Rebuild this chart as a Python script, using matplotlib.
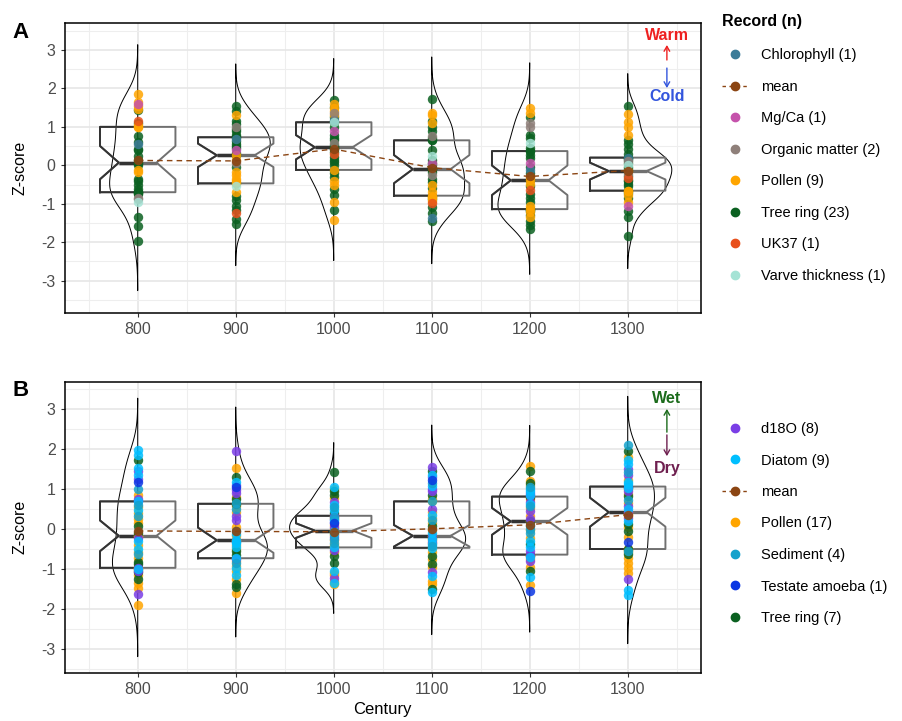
import numpy as np
import matplotlib.pyplot as plt
from matplotlib.lines import Line2D
from matplotlib.patches import Rectangle

plt.rcParams['font.family'] = ['Liberation Sans', 'DejaVu Sans']
plt.rcParams['axes.unicode_minus'] = False

centuries = [800, 900, 1000, 1100, 1200, 1300]

# ---- panel A : temperature records, z-scores per century ----
a_chlorophyll = [[0.55], [0.68], [1.18], [-1.37], [-0.12], [0.20]]
a_mgca = [[1.60], [0.40], [0.90], [0.05], [0.05], [-1.05]]
a_organic = [[-0.88, -0.85], [0.05, 1.00], [0.58, 1.35], [-0.25, 0.75], [1.00, 1.10], [-0.22, 0.10]]
a_pollen = [
    [-0.18, -0.12, 1.0, 1.0, 1.05, 1.47, 1.55, 1.65, 1.85],
    [-0.70, -0.47, -0.40, -0.35, -0.25, -0.18, 0.15, 0.26, 1.30],
    [-1.41, -0.95, -0.50, -0.40, -0.12, 1.30, 1.42, 1.48, 1.60],
    [-0.92, -0.85, -0.82, -0.79, -0.70, -0.50, 1.10, 1.30, 1.35],
    [-1.35, -1.22, -1.14, -1.05, -0.48, -0.39, -0.30, 1.35, 1.49],
    [-0.95, -0.78, -0.68, -0.66, -0.15, 0.80, 1.00, 1.13, 1.34],
]
a_tree_ring = [
    [-1.97, -1.58, -1.35, -0.75, -0.72, -0.70, -0.70, -0.70, -0.62, -0.50, -0.42, -0.35,
     0.0, 0.07, 0.07, 0.15, 0.25, 0.40, 0.42, 0.60, 0.75, 1.10, 1.45],
    [-1.52, -1.40, -1.15, -1.05, -0.90, -0.80, -0.47, -0.05, 0.26, 0.32, 0.45, 0.50,
     0.55, 0.62, 0.73, 0.73, 0.80, 0.88, 0.95, 1.08, 1.15, 1.42, 1.55],
    [-1.16, -0.78, -0.62, -0.30, -0.20, -0.12, 0.00, 0.08, 0.15, 0.22, 0.35, 0.42,
     0.47, 0.47, 0.52, 0.65, 0.72, 0.80, 1.00, 1.12, 1.25, 1.52, 1.71],
    [-1.46, -1.25, -1.09, -0.88, -0.79, -0.60, -0.44, -0.35, -0.18, -0.10, -0.10, -0.08,
     0.0, 0.05, 0.15, 0.40, 0.65, 0.65, 0.70, 0.90, 1.00, 1.15, 1.72],
    [-1.66, -1.55, -1.45, -1.28, -1.18, -1.15, -1.14, -1.14, -0.95, -0.85, -0.75, -0.55,
     -0.39, -0.20, -0.05, 0.18, 0.28, 0.37, 0.37, 0.45, 0.70, 0.80, 1.25],
    [-1.85, -1.35, -1.20, -0.85, -0.72, -0.66, -0.55, -0.48, -0.42, -0.38, -0.28, -0.15,
     -0.10, -0.05, 0.05, 0.15, 0.18, 0.20, 0.30, 0.42, 0.55, 0.65, 1.55],
]
a_uk37 = [[1.15], [-1.25], [0.30], [-0.98], [-0.65], [-0.32]]
a_varve = [[-0.96], [-0.55], [1.12], [0.25], [0.58], [0.00]]

# ---- panel B : hydroclimate records ----
b_d18o = [
    [-1.62, -1.05, -0.97, -0.22, 0.69, 0.75, 1.25, 1.45],
    [-0.75, -0.29, 0.22, 0.33, 0.90, 0.98, 1.10, 1.96],
    [-1.22, -0.52, -0.20, 0.05, 0.18, 0.25, 0.33, 0.68],
    [-1.08, -0.32, -0.17, 0.50, 0.95, 1.00, 1.30, 1.54],
    [-0.80, -0.64, -0.56, 0.25, 0.46, 0.68, 0.86, 0.90],
    [-1.25, 0.28, 0.42, 0.57, 0.95, 1.06, 1.35, 1.50],
]
b_diatom = [
    [-1.00, -0.50, -0.30, 0.48, 0.69, 1.35, 1.52, 1.85, 1.98],
    [-1.15, -0.98, -0.73, -0.45, -0.36, -0.33, -0.28, -0.12, 1.18],
    [-1.35, -1.05, -0.46, -0.12, -0.04, 0.22, 0.48, 0.60, 1.05],
    [-1.58, -1.18, -0.47, -0.38, -0.25, -0.10, 0.35, 1.08, 1.35],
    [-1.20, -0.70, -0.45, -0.30, 0.08, 0.62, 0.84, 0.95, 1.00],
    [-1.65, -1.52, 0.20, 0.50, 1.03, 1.12, 1.17, 1.62, 1.72],
]
b_pollen = [
    [-1.90, -1.48, -1.35, -1.15, -1.02, -0.98, -0.97, -0.72, -0.57, -0.40, -0.17, -0.17,
     0.15, 0.25, 0.40, 0.55, 0.85],
    [-1.61, -1.25, -1.05, -0.92, -0.80, -0.73, -0.50, -0.40, -0.30, -0.28, -0.18, 0.05,
     0.42, 0.58, 0.63, 0.80, 1.52],
    [-1.37, -1.30, -1.15, -1.10, -0.58, -0.46, -0.40, -0.28, -0.15, -0.10, -0.04, 0.00,
     0.10, 0.28, 0.33, 0.78, 1.00],
    [-1.38, -1.29, -0.95, -0.75, -0.58, -0.47, -0.35, -0.28, -0.22, -0.18, -0.17, -0.02,
     0.15, 0.28, 0.42, 0.69, 0.75],
    [-1.40, -0.95, -0.75, -0.68, -0.65, -0.64, -0.22, -0.02, 0.19, 0.20, 0.32, 0.52,
     0.75, 0.81, 1.10, 1.20, 1.57],
    [-1.10, -0.98, -0.85, -0.72, -0.58, -0.52, -0.50, -0.20, 0.05, 0.33, 0.38, 0.42,
     0.65, 0.88, 1.00, 1.22, 1.79],
]
b_sediment = [
    [-0.62, 0.32, 0.60, 1.00],
    [-0.85, -0.05, 0.50, 0.66],
    [-0.35, -0.25, 0.30, 0.54],
    [-0.42, 0.22, 0.69, 1.15],
    [-0.10, 0.00, 0.58, 1.05],
    [-0.55, 0.72, 1.42, 2.10],
]
b_testate = [[1.18], [1.05], [0.15], [1.22], [-1.56], [-0.32]]
b_tree_ring = [
    [-1.25, -1.08, -0.88, -0.83, -0.10, 0.08, 1.73],
    [-1.45, -1.38, -0.65, -0.55, 0.63, 0.75, 1.30],
    [-0.85, -0.67, -0.06, 0.40, 0.85, 0.95, 1.42],
    [-1.50, -0.87, -0.67, -0.20, 0.08, 0.85, 1.45],
    [-1.05, -0.66, -0.38, 0.19, 0.81, 1.15, 1.45],
    [-0.62, -0.50, -0.05, 0.12, 0.82, 1.06, 1.96],
]

mean_color = '#8B4513'

# (label, data, colour), in drawing order
records_a = [
    ('Tree ring (23)', a_tree_ring, '#0b6121'),
    ('Pollen (9)', a_pollen, '#ffa500'),
    ('Chlorophyll (1)', a_chlorophyll, '#3b7b98'),
    ('Mg/Ca (1)', a_mgca, '#c552ab'),
    ('Organic matter (2)', a_organic, '#8f807a'),
    ('UK37 (1)', a_uk37, '#e8501c'),
    ('Varve thickness (1)', a_varve, '#a5e3d5'),
]
legend_a = ['Chlorophyll (1)', 'mean', 'Mg/Ca (1)', 'Organic matter (2)', 'Pollen (9)',
            'Tree ring (23)', 'UK37 (1)', 'Varve thickness (1)']

records_b = [
    ('Pollen (17)', b_pollen, '#ffa500'),
    ('Tree ring (7)', b_tree_ring, '#0b6121'),
    ('d18O (8)', b_d18o, '#7a3ee6'),
    ('Diatom (9)', b_diatom, '#00bfff'),
    ('Sediment (4)', b_sediment, '#14a2cc'),
    ('Testate amoeba (1)', b_testate, '#0a36e3'),
]
legend_b = ['d18O (8)', 'Diatom (9)', 'mean', 'Pollen (17)', 'Sediment (4)',
            'Testate amoeba (1)', 'Tree ring (7)']


def kde(v):
    v = np.asarray(v)
    n = len(v)
    iqr = np.subtract(*np.percentile(v, [75, 25]))
    bw = 0.9 * min(v.std(ddof=1), iqr / 1.34) * n ** -0.2
    y = np.linspace(v.min() - 3 * bw, v.max() + 3 * bw, 512)
    d = np.exp(-0.5 * ((y[:, None] - v[None, :]) / bw) ** 2).sum(1) / (n * bw * np.sqrt(2 * np.pi))
    return y, d


def draw_panel(ax, records, ylim):
    groups = [np.concatenate([np.array(r[1][i]) for r in records]) for i in range(len(centuries))]

    # half violins, alternating sides, area-scaled
    dens = [kde(g) for g in groups]
    dmax = max(d.max() for _, d in dens)
    for i, c in enumerate(centuries):
        y, d = dens[i]
        side = -1 if i % 2 == 0 else 1
        xs = np.concatenate([c + side * 45 * d / dmax, [c, c]])
        ys = np.concatenate([y, [y[-1], y[0]]])
        ax.fill(xs, ys, fill=False, edgecolor='black', lw=0.7, zorder=2)

    # notched boxes: grey right half, dark left half
    for col, clip in [('#707070', False), ('#333333', True)]:
        bp = ax.boxplot(groups, positions=centuries, widths=77, notch=True, whis=0,
                        showfliers=False, showcaps=False, manage_ticks=False, patch_artist=False,
                        boxprops=dict(color=col, lw=1.4),
                        medianprops=dict(color=col, lw=2.4),
                        whiskerprops=dict(lw=0), zorder=3)
        if clip:
            for j, c in enumerate(centuries):
                for art in (bp['boxes'][j], bp['medians'][j]):
                    r = Rectangle((c - 60, -10), 60, 20, transform=ax.transData)
                    art.set_clip_path(r)

    # records
    for label, data, col in records:
        for i, c in enumerate(centuries):
            vals = data[i]
            ax.scatter([c] * len(vals), vals, s=46, color=col, alpha=0.85, lw=0, zorder=4)

    means = [g.mean() for g in groups]
    ax.plot(centuries, means, ls=(0, (4, 3)), color=mean_color, lw=1.0, zorder=5)
    ax.scatter(centuries, means, s=46, color=mean_color, alpha=0.9, lw=0, zorder=6)

    ax.set_xlim(725.5, 1374.5)
    ax.set_ylim(*ylim)
    ax.set_xticks(centuries)
    ax.set_xticks(np.arange(750, 1400, 100), minor=True)
    ax.set_yticks(range(-3, 4))
    ax.set_yticks(np.arange(-3.5, 4, 1), minor=True)
    ax.grid(which='major', color='#e6e6e6', lw=1.2)
    ax.grid(which='minor', color='#eeeeee', lw=0.8)
    ax.set_axisbelow(True)
    ax.tick_params(which='major', length=3, width=0.8, color='#333333', labelcolor='#4d4d4d',
                   labelsize=11.5)
    ax.tick_params(which='minor', length=0)
    for s in ax.spines.values():
        s.set_linewidth(1.1)
        s.set_color('black')
    ax.set_ylabel('Z-score', fontsize=11.5)
    ax.yaxis.set_label_coords(-0.059, 0.5)


def make_handles(records, order):
    cols = {r[0]: r[2] for r in records}
    hs = []
    for lab in order:
        if lab == 'mean':
            hs.append(Line2D([], [], color=mean_color, ls=(0, (2.5, 2.5)), lw=1, marker='o', markersize=6))
        else:
            hs.append(Line2D([], [], color=cols[lab], ls='none', marker='o', markersize=6))
    return hs


def hint(ax, word, ty, y0, y1, col):
    ax.text(1340, ty, word, color=col, fontsize=11.5, fontweight='bold', ha='center', va='center')
    ax.annotate('', xy=(1340, y1), xytext=(1340, y0),
                arrowprops=dict(arrowstyle='->,head_length=0.35,head_width=0.2', color=col, lw=1,
                                shrinkA=0, shrinkB=0))


W, H = 902, 721
fig = plt.figure(figsize=(W / 100, H / 100), dpi=100)
ax_a = fig.add_axes([64.7 / W, 1 - 313.3 / H, 636 / W, 290.6 / H])
ax_b = fig.add_axes([64.7 / W, 1 - 672.7 / H, 636 / W, 291 / H])

draw_panel(ax_a, records_a, (-3.85, 3.71))
draw_panel(ax_b, records_b, (-3.59, 3.68))
ax_b.set_xlabel('Century', fontsize=12)
ax_b.xaxis.set_label_coords(0.5, -0.102)

# direction hints
hint(ax_a, 'Warm', 3.39, 2.74, 3.13, '#ee2020')
hint(ax_a, 'Cold', 1.79, 2.53, 2.01, '#3355dd')
hint(ax_b, 'Wet', 3.27, 2.42, 3.0, '#1b6b1b')
hint(ax_b, 'Dry', 1.52, 2.35, 1.82, '#6e1f4f')

fig.text(12 / W, 1 - 32 / H, 'A', fontsize=16, fontweight='bold', va='center')
fig.text(12 / W, 1 - 390 / H, 'B', fontsize=16, fontweight='bold', va='center')

leg_kw = dict(frameon=False, fontsize=10.5, borderpad=0, labelspacing=1.2,
              handlelength=1.8, handletextpad=0.9, borderaxespad=0, loc='upper left')
leg_a = fig.legend(make_handles(records_a, legend_a), legend_a,
                   bbox_to_anchor=(722 / W, 1 - 14 / H), title='Record (n)',
                   title_fontproperties={'weight': 'bold', 'size': 11.5}, alignment='left', **leg_kw)
leg_a._legend_box.sep = 14
leg_b = fig.legend(make_handles(records_b, legend_b), legend_b,
                   bbox_to_anchor=(722 / W, 1 - 422 / H), **leg_kw)

fig.savefig('out.png', dpi=100)
